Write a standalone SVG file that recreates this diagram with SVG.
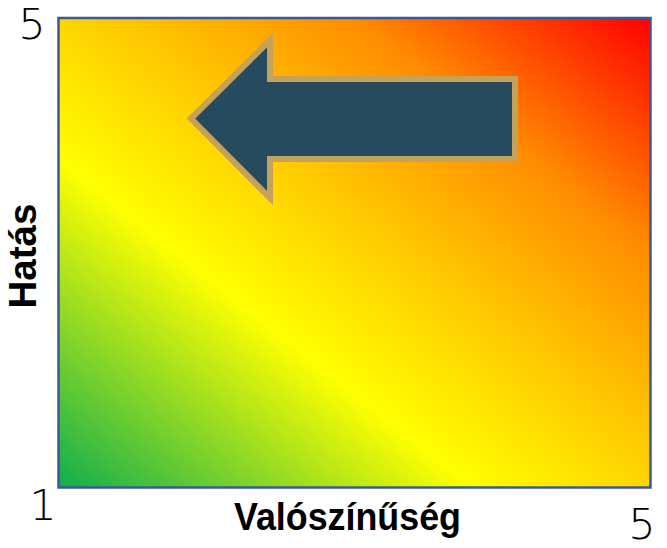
<svg xmlns="http://www.w3.org/2000/svg" width="667" height="548" viewBox="0 0 667 548">
  <style>
    .num { font-family: "DejaVu Sans", "Liberation Sans", sans-serif; font-size: 43px; font-weight: 200; fill: #000; }
    .axis { font-family: "Liberation Sans", Arial, sans-serif; font-size: 39px; font-weight: bold; fill: #000; }
  </style>
  <defs>
    <linearGradient id="risk" x1="0" y1="1" x2="1" y2="0">
      <stop offset="0" stop-color="#10ad4f"/>
      <stop offset="0.35" stop-color="#ffff00"/>
      <stop offset="0.55" stop-color="#ffc800"/>
      <stop offset="0.75" stop-color="#ff8c00"/>
      <stop offset="1" stop-color="#ff0000"/>
    </linearGradient>
  </defs>
  <g id="matrix">
    <rect x="58.5" y="18" width="592" height="469.5" fill="url(#risk)" stroke="#3b5998" stroke-width="2.5"/>
  </g>
  <g id="arrow">
    <path d="M191,118.5 L270,40 L270,79 L515,79 L515,159 L270,159 L270,198 Z" fill="#264b5e" stroke="#c4a25a" stroke-width="6" stroke-linejoin="miter"/>
  </g>
  <g id="labels">
    <text class="num" x="32" y="39" font-size="42" text-anchor="middle">5</text>
    <text class="num" x="43" y="520" text-anchor="middle">1</text>
    <text class="num" x="642" y="539" text-anchor="middle">5</text>
    <text class="axis" x="234" y="530" textLength="227" lengthAdjust="spacingAndGlyphs">Valószínűség</text>
    <text class="axis" transform="translate(36,256) rotate(-90)" text-anchor="middle" textLength="105" lengthAdjust="spacingAndGlyphs">Hatás</text>
  </g>
</svg>
